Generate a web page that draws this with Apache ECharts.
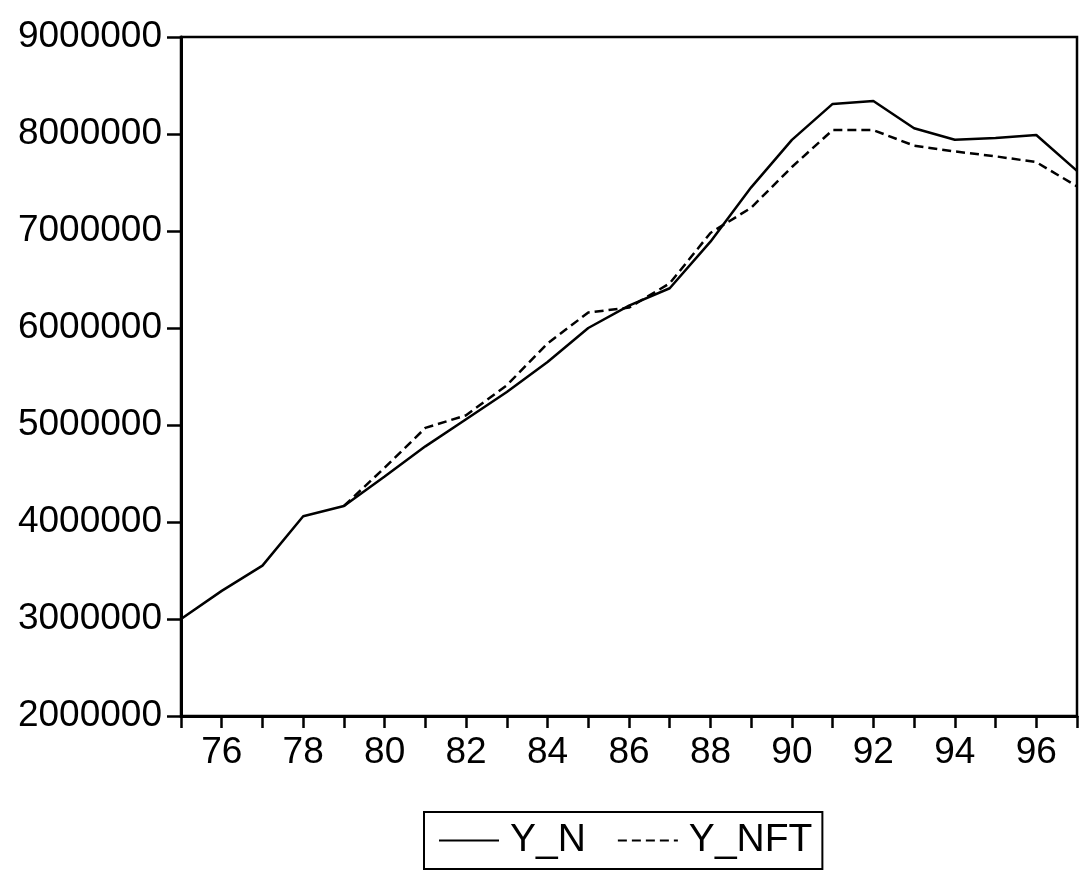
<!DOCTYPE html>
<html>
<head>
<meta charset="utf-8">
<title>Y_N vs Y_NFT</title>
<script src="https://cdn.jsdelivr.net/npm/echarts@6/dist/echarts.min.js"></script>
<style>
  html, body { margin: 0; padding: 0; background: #fff; }
  #chart { width: 1088px; height: 887px; }
</style>
</head>
<body>
<div id="chart"></div>
<script>
// years 1975 - 1997, shown as two digits
const years = ["75", "76", "77", "78", "79", "80", "81", "82", "83", "84", "85", "86",
  "87", "88", "89", "90", "91", "92", "93", "94", "95", "96", "97"];

// actual series
const yN = [3000000, 3290000, 3550000, 4060000, 4165000, 4470000, 4780000, 5060000,
  5340000, 5650000, 6000000, 6230000, 6410000, 6890000, 7450000, 7940000, 8310000,
  8340000, 8060000, 7940000, 7960000, 7990000, 7620000];

// fitted series, starts in 79
const yNft = [null, null, null, null, 4165000, 4560000, 4970000, 5100000,
  5410000, 5840000, 6160000, 6210000, 6460000, 6980000, 7240000, 7660000, 8040000,
  8040000, 7880000, 7820000, 7770000, 7710000, 7460000];

const seriesNames = ["Y_N", "Y_NFT"];

const FONT = "'Liberation Sans', Arial, Helvetica, sans-serif";

function initChart() {
  const chart = echarts.init(document.getElementById("chart"), null, { renderer: "canvas" });
  const option = {
    backgroundColor: "#fff",
    animation: false,
    textStyle: { fontFamily: FONT, color: "#000" },
    grid: {
      left: 181,
      right: 11,
      top: 37,
      bottom: 171,
      show: true,
      borderColor: "#000",
      borderWidth: 2.5,
      backgroundColor: "transparent"
    },
    legend: {
      data: seriesNames,
      left: 424,
      top: 812,
      orient: "horizontal",
      borderColor: "#000",
      borderWidth: 2,
      padding: [9, 10, 9, 14],
      itemGap: 31,
      itemWidth: 60,
      itemHeight: 14,
      // only the line sample, no dot
      itemStyle: { opacity: 0 },
      lineStyle: { opacity: 1 },
      textStyle: { fontFamily: FONT, fontSize: 39, color: "#000", padding: [0, 0, 0, 6] }
    },
    xAxis: {
      type: "category",
      data: years,
      boundaryGap: false,
      axisLine: { lineStyle: { color: "#000", width: 3 } },
      axisTick: {
        show: true,
        interval: 0,
        inside: false,
        length: 12,
        lineStyle: { color: "#000", width: 2.5 }
      },
      axisLabel: {
        // label every second year (76, 78, ...)
        interval: function (index) { return index % 2 === 1; },
        margin: 18,
        fontSize: 37,
        fontFamily: FONT,
        color: "#000"
      },
      splitLine: { show: false }
    },
    yAxis: {
      type: "value",
      min: 2000000,
      max: 9000000,
      interval: 1000000,
      axisLine: { show: true, lineStyle: { color: "#000", width: 3 } },
      axisTick: { show: true, length: 14, lineStyle: { color: "#000", width: 2.5 } },
      axisLabel: {
        formatter: function (v) { return String(v); },
        margin: 19,
        fontSize: 37,
        fontFamily: FONT,
        color: "#000"
      },
      splitLine: { show: false }
    },
    series: [
      {
        name: seriesNames[0],
        type: "line",
        data: yN,
        symbol: "none",
        lineStyle: { color: "#000", width: 2.5, type: "solid" },
        itemStyle: { color: "#000" }
      },
      {
        name: seriesNames[1],
        type: "line",
        data: yNft,
        symbol: "none",
        connectNulls: false,
        lineStyle: { color: "#000", width: 2.5, type: [9, 5] },
        itemStyle: { color: "#000" }
      }
    ]
  };
  chart.setOption(option);
}

initChart();
</script>
</body>
</html>
